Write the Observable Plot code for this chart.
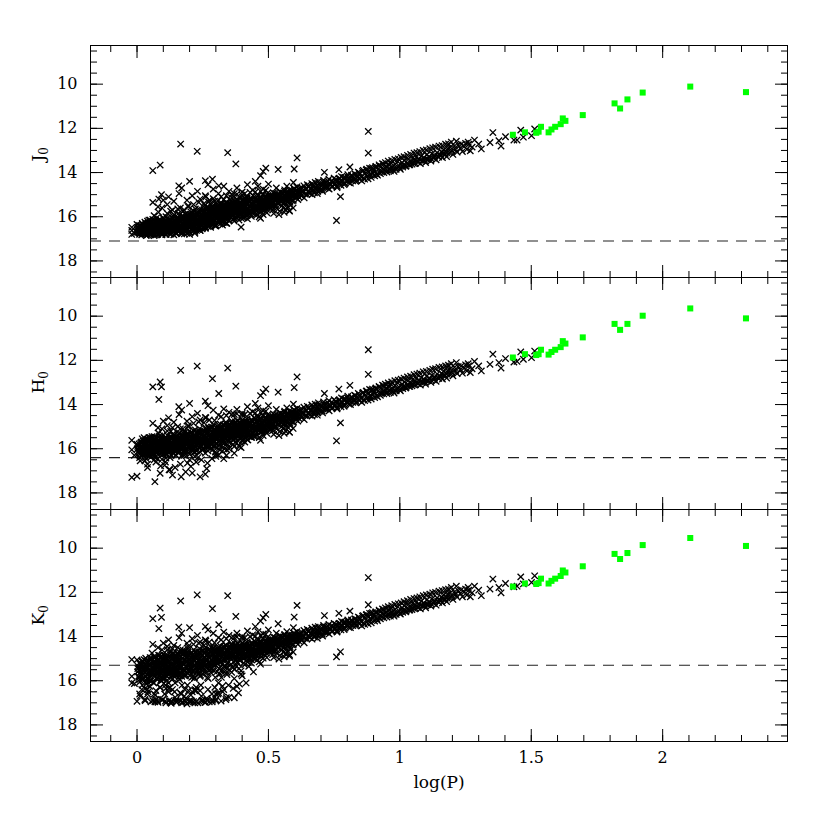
<!DOCTYPE html>
<html><head><meta charset="utf-8">
<script src="https://cdn.jsdelivr.net/npm/d3@7"></script>
<script src="https://cdn.jsdelivr.net/npm/@observablehq/plot@0.6"></script>
<style>html,body{margin:0;padding:0;background:#fff;overflow:hidden}</style>
</head><body><div id="chart"></div>
<script>
// ---- data ----
const logP = [
-0.02,-0.01,-0.02,0.00,0.00,0.01,0.01,0.02,0.02,0.02,0.03,0.03,0.03,0.03,0.04,0.04,0.04,0.04,0.04,0.05,-0.02,0.01,0.02,0.03,0.05,0.05,0.05,0.04,0.02,0.05,
0.055,0.058,0.06,0.06,0.062,0.065,0.065,0.068,0.07,0.07, 0.072,0.075,0.075,0.078,0.08,0.08,0.082,0.085,0.085,0.088, 0.09,0.09,0.092,0.095,0.095,0.098,0.10,0.10,0.102,0.105, 0.105,0.108,0.11,0.11,0.112,0.115,0.115,0.118,0.12,0.12, 0.122,0.125,0.125,0.128,0.13,0.13,0.132,0.135,0.135,0.138, 0.14,0.14,0.142,0.145,0.145,0.148,0.15,0.15,0.07,0.09, 0.11,0.13,0.06,0.08,0.10,0.12,0.14,0.075,0.105,0.135,
0.152,0.155,0.155,0.158,0.16,0.16,0.162,0.165,0.165,0.168, 0.17,0.17,0.172,0.175,0.175,0.178,0.18,0.18,0.182,0.185, 0.185,0.188,0.19,0.19,0.192,0.195,0.195,0.198,0.20,0.20, 0.202,0.205,0.205,0.208,0.21,0.21,0.212,0.215,0.215,0.218, 0.22,0.22,0.222,0.225,0.225,0.228,0.23,0.23,0.232,0.235, 0.235,0.238,0.24,0.24,0.242,0.245,0.245,0.248,0.25,0.25, 0.16,0.17,0.19,0.20,0.21,0.23,0.24,0.18,0.20,0.22,
0.252,0.255,0.255,0.258,0.26,0.26,0.262,0.265,0.265,0.268, 0.27,0.27,0.272,0.275,0.275,0.278,0.28,0.28,0.282,0.285, 0.285,0.288,0.29,0.29,0.292,0.295,0.295,0.298,0.30,0.30, 0.302,0.305,0.305,0.308,0.31,0.31,0.312,0.315,0.315,0.318, 0.32,0.32,0.322,0.325,0.325,0.328,0.33,0.33,0.332,0.335, 0.338,0.34,0.34,0.342,0.345,0.348,0.35,0.27,0.29,0.31, 0.33,0.35,0.26,0.30,0.34,
0.352,0.355,0.355,0.358,0.36,0.36,0.362,0.365,0.365,0.368, 0.37,0.37,0.372,0.375,0.375,0.378,0.38,0.38,0.382,0.385, 0.385,0.388,0.39,0.39,0.392,0.395,0.396,0.398,0.40,0.40, 0.402,0.405,0.408,0.41,0.41,0.412,0.415,0.418,0.42,0.42, 0.422,0.425,0.428,0.43,0.432,0.435,0.438,0.44,0.442,0.445, 0.38,0.40,0.42,0.44,0.37,
0.452,0.455,0.458,0.46,0.462,0.465,0.468,0.47,0.47,0.472, 0.475,0.478,0.48,0.482,0.485,0.488,0.49,0.492,0.495,0.498, 0.50,0.502,0.505,0.508,0.51,0.512,0.515,0.518,0.52,0.525, 0.528,0.53,0.535,0.538,0.54,0.545,0.548,0.46,0.48,0.50,
0.552,0.555,0.558,0.56,0.562,0.565,0.568,0.57,0.572,0.575, 0.578,0.58,0.582,0.585,0.588,0.59,0.592,0.595,0.598,0.60, 0.602,0.605,0.608,0.61,0.615,0.618,0.62,0.625,0.628,0.632, 0.635,0.64,0.645,0.648,0.595,
0.652,0.655,0.658,0.66,0.665,0.668,0.67,0.675,0.678,0.68, 0.685,0.688,0.69,0.695,0.70,0.705,0.71,0.715,0.72,0.725, 0.73,0.735,0.74,0.745,0.75,0.759,0.774,
0.752,0.758,0.762,0.768,0.772,0.778,0.782,0.788,0.792,0.798, 0.802,0.808,0.812,0.818,0.822,0.828,0.832,0.838,0.842,0.848,
0.852,0.858,0.862,0.868,0.872,0.878,0.88,0.88,0.882,0.888, 0.892,0.898,0.902,0.908,0.912,0.918,0.922,0.928,0.932,0.938, 0.942,0.948,
0.952,0.958,0.962,0.968,0.972,0.978,0.982,0.988,0.992,0.998, 1.002,1.008,1.012,1.018,1.022,1.028,1.032,1.038,1.042,1.048,
1.052,1.058,1.062,1.068,1.072,1.078,1.082,1.088,1.092,1.098, 1.102,1.108,1.112,1.118,1.122,1.128,1.132,1.138,1.142,1.148,
1.152,1.158,1.162,1.168,1.172,1.178,1.182,1.188,1.192,1.198, 1.202,1.208,1.212,1.218,1.222,1.23,1.238,1.245,1.25,
1.255,1.262,1.268,1.275,1.284,1.30,1.31,1.343,1.354,1.377, 1.385,1.402,1.434,1.446,1.46,1.47,1.501,1.513,
0.060,0.088,0.093,0.083,0.166,0.229,0.345,0.287,0.311,0.376, 0.609,0.598,0.537,0.47,0.48,0.49,0.159,0.26,0.45, 0.713,0.768,0.81,
0.003,0.006,0.008,0.011,0.013,0.016,0.018,0.021,0.023,0.026, 0.028,0.031,0.033,0.036,0.038,0.041,0.043,0.046,0.048,0.051, 0.053,0.056,0.058,0.061,0.063,0.066,0.068,0.071,0.073,0.076, 0.078,0.081,0.083,0.086,0.088,0.091,0.093,0.096,0.098,0.099, 0.012,0.027,0.042,0.057,0.072,0.087,0.035,0.065,0.095,0.045,
0.101,0.103,0.106,0.108,0.111,0.113,0.116,0.118,0.121,0.123, 0.126,0.128,0.131,0.133,0.136,0.138,0.141,0.143,0.146,0.148, 0.151,0.153,0.156,0.158,0.161,0.163,0.166,0.168,0.171,0.173, 0.176,0.178,0.181,0.183,0.186,0.188,0.191,0.193,0.196,0.198, 0.105,0.125,0.145,0.165,0.185,0.115,0.135,0.155,0.175,0.195, 0.11,0.14,0.17,0.19,0.12,
0.201,0.203,0.206,0.208,0.211,0.213,0.216,0.218,0.221,0.223, 0.226,0.228,0.231,0.233,0.236,0.238,0.241,0.243,0.246,0.248, 0.251,0.253,0.256,0.258,0.261,0.263,0.266,0.268,0.271,0.273, 0.276,0.278,0.281,0.283,0.286,0.288,0.291,0.293,0.296,0.298, 0.205,0.225,0.245,0.265,0.285,0.215,0.235,0.255,0.275,0.295, 0.22,0.24,0.26,0.28,0.30,
0.301,0.303,0.306,0.308,0.311,0.313,0.316,0.318,0.321,0.323, 0.326,0.328,0.331,0.333,0.336,0.338,0.341,0.343,0.346,0.348, 0.351,0.353,0.356,0.358,0.361,0.363,0.366,0.368,0.371,0.373, 0.376,0.378,0.381,0.383,0.386,0.388,0.391,0.393,0.396,0.398, 0.31,0.33,0.35,0.37,0.39,0.32,0.34,0.36,0.38,0.40,
0.401,0.404,0.407,0.41,0.413,0.416,0.419,0.422,0.425,0.428, 0.431,0.434,0.437,0.44,0.443,0.446,0.449,0.452,0.455,0.458, 0.461,0.464,0.467,0.47,0.473,0.476,0.479,0.482,0.485,0.488, 0.491,0.494,0.497,0.499,0.405,0.42,0.435,0.45,0.465,0.48, 0.41,0.43,0.45,0.47,0.49,
0.501,0.504,0.507,0.51,0.513,0.516,0.519,0.522,0.525,0.528, 0.531,0.534,0.537,0.54,0.543,0.546,0.549,0.552,0.555,0.558, 0.561,0.564,0.567,0.57,0.573,0.576,0.579,0.582,0.585,0.588, 0.591,0.594,0.597,0.599,0.52,0.54,0.56,0.58,0.53,0.57,
0.002,0.004,0.007,0.009,0.014,0.017,0.019,0.022,0.024,0.029, 0.032,0.034,0.037,0.039,0.044,0.047,0.049,0.052,0.054,0.059, 0.062,0.064,0.067,0.069,0.074,0.077,0.079,0.082,0.084,0.089, 0.092,0.094,0.097,0.102,0.104,0.107,0.109,0.112,0.114,0.117, 0.119,0.122,0.124,0.127,0.129,0.132,0.134,0.137,0.139,0.142, 0.144,0.147,0.149,0.152,0.154,0.157,0.159,0.162,0.164,0.167, 0.169,0.172,0.174,0.177,0.179,0.182,0.184,0.187,0.189,0.192, 0.194,0.197,0.199,0.025,0.055,0.085,0.115,0.145,0.175,0.100,
0.202,0.204,0.207,0.209,0.212,0.214,0.217,0.219,0.222,0.224, 0.227,0.229,0.232,0.234,0.237,0.239,0.242,0.244,0.247,0.249, 0.252,0.254,0.257,0.259,0.262,0.264,0.267,0.269,0.272,0.274, 0.277,0.279,0.282,0.284,0.287,0.289,0.292,0.294,0.297,0.299, 0.302,0.304,0.307,0.309,0.312,0.314,0.317,0.319,0.322,0.324, 0.327,0.329,0.332,0.334,0.337,0.339,0.342,0.344,0.347,0.349, 0.352,0.354,0.357,0.359,0.362,0.364,0.367,0.369,0.372,0.374, 0.377,0.379,0.382,0.384,0.387,0.389,0.392,0.394,0.397,0.399,
0.403,0.406,0.409,0.412,0.415,0.418,0.421,0.424,0.427,0.43, 0.433,0.436,0.439,0.442,0.445,0.448,0.451,0.454,0.457,0.46, 0.463,0.466,0.469,0.472,0.475,0.478,0.481,0.484,0.487,0.49, 0.493,0.496,0.503,0.508,0.512,0.518,0.523,0.527,0.533,0.538, 0.542,0.547,0.553,0.557,0.563,0.568,0.574,0.581,0.589,0.596,
0.603,0.607,0.612,0.616,0.621,0.626,0.631,0.636,0.641,0.646, 0.651,0.656,0.661,0.666,0.671,0.676,0.681,0.686,0.691,0.696, 0.701,0.706,0.711,0.716,0.721,0.726,0.731,0.736,0.741,0.746, 0.751,0.756,0.761,0.766,0.771,0.776,0.781,0.786,0.791,0.796, 0.801,0.806,0.811,0.816,0.821,0.826,0.831,0.836,0.841,0.846,
0.855,0.861,0.866,0.874,0.879,0.885,0.891,0.896,0.904,0.909, 0.915,0.921,0.926,0.934,0.939,0.945,0.951,0.956,0.964,0.969, 0.975,0.981,0.986,0.994,0.999,1.005,1.011,1.016,1.024,1.029, 1.035,1.041,1.046,1.054,1.059,1.065,1.071,1.076,1.084,1.089, 1.095,1.101,1.106,1.114,1.119,1.125,1.131,1.136,1.144,1.149, 1.155,1.161,1.166,1.174,1.179,1.185,1.196,1.215,1.234,1.26
];
const J0 = [
16.62,16.75,16.48,16.70,16.35,16.58,16.80,16.45,16.66,16.30,16.72,16.52,16.40,16.78,16.60,16.20,16.48,16.82,16.55,16.36,16.80,16.68,16.58,16.25,16.70,16.50,16.15,16.40,16.72,16.62,
16.55,16.30,16.68,16.12,16.45,15.95,16.78,16.38,16.60,16.25, 16.50,16.70,16.05,16.42,16.62,16.20,15.80,16.55,16.35,16.72, 16.48,16.15,16.65,16.30,15.60,16.52,16.40,16.75,16.10,16.58, 16.28,16.45,16.68,16.00,16.38,15.45,16.55,16.22,16.62,16.35, 16.70,16.15,16.48,15.75,16.58,16.28,16.42,16.05,16.65,16.32, 16.50,15.92,16.20,16.60,16.38,16.75,16.10,16.45,16.82,16.58, 16.80,16.78,15.35,15.55,15.25,15.10,15.30,16.48,16.62,16.55,
16.30,16.05,16.55,15.85,16.42,16.18,16.62,15.60,16.35,16.70, 16.12,16.48,15.95,16.28,16.58,16.02,16.40,15.70,16.65,16.22, 16.50,15.88,16.35,16.08,16.60,16.25,15.50,16.45,16.00,16.70, 16.18,16.38,15.78,16.55,16.10,16.30,16.48,15.92,16.22,16.62, 16.05,16.40,15.65,16.28,16.52,16.12,16.35,15.85,16.58,16.20, 16.45,15.98,16.30,16.62,16.08,16.40,15.75,16.25,16.50,16.15, 14.95,14.70,15.25,14.40,15.05,14.85,15.20,16.78,16.80,16.75,
16.08,15.73,16.28,15.48,15.98,15.05,15.10,16.20,15.83,15.60, 16.38,15.93,15.33,16.13,15.68,16.03,15.40,16.26,15.78,16.08, 15.53,16.33,15.88,15.18,16.16,15.63,15.96,16.40,15.76,16.06, 15.46,16.23,15.83,15.28,16.00,15.66,16.13,15.50,16.33,15.86, 15.70,16.18,15.38,15.93,16.38,15.58,16.03,15.23,16.26,15.80, 15.48,16.08,15.66,16.30,15.90,15.40,16.16,14.55,14.75,14.95, 14.62,14.85,16.50,16.42,16.30,
15.72,15.25,16.00,15.50,15.85,15.15,15.65,16.10,15.38,15.90, 15.58,16.20,15.30,15.78,15.48,16.05,15.20,15.70,15.95,15.42, 15.62,16.15,15.10,15.55,15.85,15.35,16.47,15.68,15.25,15.98, 15.48,15.75,15.18,16.02,15.58,15.35,15.85,15.08,15.65,15.42, 15.92,15.25,15.72,15.50,15.15,15.80,15.38,15.60,15.05,15.75, 14.70,14.88,14.55,14.80,14.95,
15.55,15.20,15.72,15.05,15.40,15.62,15.15,16.07,15.48,15.30, 15.68,14.98,15.42,15.58,15.22,15.50,15.10,15.65,15.35,14.92, 15.45,15.18,15.60,15.28,15.02,15.40,15.55,15.12,15.35,14.95, 15.48,15.22,15.05,15.38,15.15,14.88,15.30,14.62,14.75,14.52,
15.20,14.92,15.38,15.05,14.78,15.68,15.15,14.95,15.30,14.85, 15.12,15.72,14.98,15.22,14.80,15.08,14.90,15.25,14.72,15.00, 14.85,15.15,14.65,14.95,15.10,14.78,14.92,15.05,14.70,14.88, 14.60,14.98,14.75,14.55,14.45,
14.88,14.62,14.95,14.72,14.50,14.82,14.65,14.92,14.45,14.75, 14.58,14.85,14.40,14.68,14.52,14.78,14.35,14.62,14.45,14.70, 14.30,14.55,14.40,14.62,14.25,16.17,15.09,
14.50,14.35,14.62,14.28,14.45,14.18,14.40,14.55,14.22,14.38, 14.10,14.32,14.48,14.15,14.28,14.05,14.40,14.20,13.98,14.30,
14.18,13.95,14.25,14.05,13.88,14.15,12.14,13.12,13.98,14.10, 13.82,14.02,13.90,13.75,14.08,13.85,13.70,13.95,13.80,13.62, 13.88,13.72,
13.90,13.65,13.82,13.58,13.75,13.95,13.62,13.78,13.50,13.70, 13.85,13.55,13.68,13.45,13.72,13.58,13.40,13.65,13.50,13.35,
13.58,13.42,13.30,13.52,13.38,13.60,13.25,13.45,13.32,13.55, 13.20,13.40,13.28,13.48,13.15,13.35,13.22,13.42,13.10,13.30,
13.20,13.05,13.32,12.98,13.15,13.28,12.92,13.10,12.85,13.02, 13.18,12.80,12.95,13.08,12.75,12.90,13.05,12.82,12.68,
12.95,12.72,13.02,12.85,12.53,12.71,12.93,12.64,12.19,12.56, 12.80,12.38,12.53,12.53,12.08,12.40,12.33,12.03,
13.91,13.66,15.00,15.20,12.71,13.04,13.10,14.30,14.60,13.61, 13.34,13.84,13.86,14.14,13.95,13.80,14.60,14.37,14.40, 13.99,13.87,13.75,
16.52,16.68,16.40,16.75,16.58,16.45,16.82,16.62,16.38,16.70, 16.50,16.78,16.32,16.60,16.45,16.72,16.28,16.55,16.68,16.40, 16.82,16.22,16.62,16.48,16.75,16.35,16.58,16.18,16.70,16.42, 16.80,16.28,16.55,16.12,16.65,16.38,16.78,16.25,16.52,16.05, 16.48,16.65,16.30,16.55,16.45,16.72,16.85,16.85,16.82,16.15,
16.42,16.65,16.20,16.55,16.35,16.72,16.05,16.48,16.62,16.28, 16.80,16.15,16.52,16.38,16.70,15.98,16.45,16.60,16.25,16.75, 16.10,16.50,16.35,16.68,15.92,16.42,16.58,16.18,16.72,16.30, 16.05,16.48,16.62,15.88,16.40,16.22,16.55,16.00,16.68,16.32, 16.30,16.55,16.40,16.20,16.45,15.85,15.70,15.65,15.75,15.55, 16.80,16.82,16.78,16.75,16.10,
16.25,16.48,15.90,16.35,16.10,16.58,15.75,16.28,16.45,16.02, 16.62,15.85,16.30,16.15,16.50,15.68,16.22,16.40,15.95,16.55, 15.80,16.18,16.05,16.42,15.62,16.12,16.30,15.88,16.45,15.98, 15.70,16.20,16.35,15.60,16.08,15.85,16.25,15.72,16.40,15.95, 16.20,16.05,15.90,16.10,15.80,15.45,15.35,15.40,15.25,15.30, 16.70,16.62,16.52,16.48,16.38,
15.85,16.10,15.55,15.95,15.70,16.20,15.40,15.88,16.05,15.62, 16.25,15.48,15.92,15.75,16.12,15.35,15.82,16.00,15.58,16.18, 15.45,15.78,15.65,16.02,15.28,15.72,15.90,15.50,16.08,15.60, 15.35,15.85,15.98,15.25,15.70,15.48,15.92,15.38,16.05,15.62, 15.70,15.85,15.60,15.75,15.52,15.10,15.05,15.00,14.98,15.02,
15.55,15.85,15.25,15.70,15.40,15.95,15.15,15.62,15.78,15.35, 15.88,15.20,15.65,15.48,15.80,15.10,15.55,15.72,15.30,15.90, 15.05,15.45,15.62,15.22,15.78,15.38,15.00,15.55,15.70,15.15, 15.48,15.82,15.28,15.05,16.05,16.10,15.98,15.92,16.00,15.90, 14.95,14.90,14.88,14.85,14.80,
15.30,15.58,15.05,15.45,15.18,15.70,14.92,15.38,15.55,15.10, 15.62,14.98,15.42,15.25,15.75,14.88,15.32,15.50,15.08,15.62, 14.85,15.25,15.42,15.00,15.55,15.15,14.80,15.35,15.48,14.95, 15.28,15.60,15.05,14.75,15.85,15.90,15.80,15.75,14.70,14.62,
16.60,16.48,16.72,16.55,16.40,16.65,16.50,16.78,16.58,16.45, 16.68,16.35,16.55,16.70,16.42,16.62,16.30,16.52,16.75,16.48, 16.38,16.60,16.25,16.50,16.70,16.42,16.58,16.32,16.65,16.45, 16.55,16.28,16.68,16.40,16.52,16.20,16.62,16.35,16.48,16.58, 16.25,16.45,16.60,16.15,16.38,16.55,16.30,16.48,16.10,16.62, 16.35,16.52,16.20,16.42,16.05,16.58,16.28,16.45,16.15,16.38, 16.55,16.10,16.32,16.48,16.02,16.25,16.60,16.18,16.40,15.95, 16.30,16.45,16.12,16.62,16.50,16.35,16.40,16.22,16.08,16.50,
16.20,15.95,16.40,16.10,15.85,16.30,16.02,16.48,15.90,16.18, 16.35,15.82,16.10,16.25,15.75,16.05,16.38,15.92,16.15,15.70, 16.00,16.28,15.78,16.12,15.65,15.95,16.22,15.85,16.05,15.60, 15.90,16.15,15.70,15.98,15.55,16.08,15.80,15.62,16.02,15.75, 15.85,15.60,16.05,15.72,15.48,15.92,15.65,16.00,15.55,15.80, 15.70,15.95,15.45,15.82,15.58,15.40,15.88,15.62,15.75,15.50, 15.78,15.42,15.65,15.90,15.35,15.58,15.72,15.48,15.85,15.30, 15.62,15.45,15.75,15.28,15.55,15.68,15.38,15.82,15.50,15.25,
15.60,15.35,15.75,15.48,15.28,15.65,15.40,15.82,15.52,15.30, 15.70,15.45,15.22,15.58,15.38,15.68,15.15,15.50,15.62,15.32, 15.25,15.55,15.42,15.12,15.60,15.35,15.48,15.20,15.52,15.08, 15.40,15.28,15.45,15.15,15.35,15.05,15.50,15.22,15.10,15.38, 15.00,15.30,15.18,14.95,15.25,15.08,14.92,15.20,15.02,14.88,
15.10,14.80,15.22,14.92,14.70,15.05,14.85,15.15,14.75,14.98, 14.62,14.90,14.72,15.00,14.55,14.82,14.65,14.95,14.50,14.78, 14.60,14.85,14.45,14.70,14.58,14.38,14.75,14.52,14.65,14.42, 14.55,14.32,14.68,14.45,14.28,14.58,14.40,14.22,14.50,14.35, 14.18,14.45,14.30,14.12,14.38,14.25,14.08,14.35,14.20,14.02,
14.38,13.90,14.30,13.85,14.28,13.80,14.22,13.78,14.15,13.72, 14.12,13.65,14.05,13.60,14.00,13.55,13.98,13.48,13.92,13.45, 13.88,13.40,13.85,13.38,13.80,13.32,13.75,13.28,13.70,13.22, 13.65,13.18,13.62,13.12,13.58,13.10,13.52,13.05,13.48,13.00, 13.45,12.98,13.40,12.92,13.38,12.88,13.30,12.85,13.25,12.80, 13.22,12.78,13.15,12.72,13.10,12.70,12.62,12.58,12.72,12.62
];
const H0 = [
16.05,16.30,15.62,17.24,15.80,15.95,16.40,15.72,16.12,15.55,16.20,15.98,15.85,16.55,16.02,15.60,15.90,16.30,16.70,15.78,17.30,16.15,16.00,15.65,16.22,15.95,15.50,16.85,16.25,16.10,
16.02,15.85,16.20,15.62,15.96,15.45,16.32,17.49,16.08,15.70, 16.40,16.15,15.52,15.90,16.05,15.68,15.30,16.00,15.88,17.11, 15.92,15.60,16.18,15.75,15.10,16.05,15.82,16.25,15.55,16.12, 15.70,16.60,16.20,15.48,15.85,14.95,16.05,15.65,16.15,15.80, 16.95,15.62,15.95,15.22,16.08,15.75,15.90,15.50,17.19,15.78, 16.00,15.40,15.68,16.12,15.85,16.28,15.58,15.92,16.35,16.78, 16.42,16.30,14.85,15.05,14.75,14.60,14.80,16.10,16.20,16.00,
15.80,15.55,16.05,15.32,15.95,15.65,16.12,15.10,15.85,17.27, 15.60,16.00,15.45,15.78,16.10,15.52,15.88,15.20,16.20,15.70, 16.02,15.38,15.85,15.58,16.65,15.72,15.00,15.95,15.50,16.25, 15.65,15.88,15.25,16.08,15.58,17.10,15.98,15.42,15.70,16.15, 15.55,15.90,15.15,15.78,16.05,15.62,15.85,15.35,16.40,15.70, 15.95,15.48,17.27,16.15,15.58,15.90,15.25,15.72,16.00,15.62, 14.45,14.25,14.75,13.95,14.55,14.40,14.70,16.30,16.50,16.35,
15.78,15.45,16.00,15.20,15.68,14.58,14.60,15.92,15.52,16.65, 16.10,15.62,15.05,15.85,15.40,15.72,15.12,15.98,15.50,15.80, 15.25,16.05,15.58,14.90,15.88,15.35,15.68,16.15,15.45,15.78, 15.18,15.95,15.52,15.00,15.70,15.38,15.85,15.22,16.05,15.55, 15.40,15.90,15.10,15.62,16.10,15.30,15.75,14.95,16.00,15.50, 15.20,15.78,15.38,16.05,15.60,15.12,15.88,14.05,14.25,14.48, 14.20,14.35,17.15,16.25,16.30,
15.42,14.95,15.70,15.20,15.55,14.85,15.35,15.80,15.08,15.60, 15.28,15.90,15.00,15.48,15.15,15.75,14.90,15.38,15.62,15.10, 15.32,15.85,14.80,15.25,15.55,15.05,15.95,15.38,14.95,15.65, 15.18,15.45,14.88,15.70,15.28,15.05,15.52,14.78,15.35,15.10, 15.60,14.95,15.42,15.20,14.85,15.48,15.08,15.30,14.75,15.45, 14.22,14.40,14.10,14.32,14.45,
15.08,14.72,15.25,14.58,14.92,15.15,14.68,15.62,15.00,14.82, 15.20,14.50,14.95,15.10,14.75,15.02,14.62,15.18,14.88,14.45, 14.98,14.70,15.12,14.80,14.55,14.92,15.08,14.65,14.88,14.48, 15.00,14.75,14.58,14.90,14.68,14.40,14.82,14.15,14.28,14.05,
14.72,14.45,14.90,14.58,14.30,15.20,14.68,14.48,14.82,14.38, 14.65,15.25,14.50,14.75,14.32,14.60,14.42,14.78,14.25,14.52, 14.38,14.68,14.18,14.48,14.62,14.30,14.45,14.58,14.22,14.40, 14.12,14.50,14.28,14.08,13.98,
14.40,14.15,14.48,14.25,14.02,14.35,14.18,14.45,13.98,14.28, 14.10,14.38,13.92,14.20,14.05,14.30,13.88,14.15,13.98,14.22, 13.82,14.08,13.92,14.15,13.78,15.64,14.83,
14.02,13.88,14.15,13.80,13.98,13.70,13.92,14.08,13.75,13.90, 13.62,13.85,14.00,13.68,13.80,13.58,13.92,13.72,13.50,13.82,
13.70,13.48,13.78,13.58,13.40,13.68,11.52,12.63,13.50,13.62, 13.35,13.55,13.42,13.28,13.60,13.38,13.22,13.48,13.32,13.15, 13.40,13.25,
13.42,13.18,13.35,13.10,13.28,13.48,13.15,13.30,13.02,13.22, 13.38,13.08,13.20,12.98,13.25,13.10,12.92,13.18,13.02,12.88,
13.10,12.95,12.82,13.05,12.90,13.12,12.78,12.98,12.85,13.08, 12.72,12.92,12.80,13.00,12.68,12.88,12.75,12.95,12.62,12.82,
12.72,12.58,12.85,12.50,12.68,12.80,12.45,12.62,12.38,12.55, 12.70,12.32,12.48,12.60,12.28,12.42,12.58,12.35,12.20,
12.48,12.25,12.55,12.38,12.05,12.25,12.48,12.18,11.72,12.10, 12.35,11.92,12.08,12.05,11.62,11.95,11.88,11.58,
13.20,12.98,13.20,13.77,12.45,12.26,12.35,12.83,13.50,13.17, 12.75,13.23,13.44,13.60,13.45,13.30,14.10,13.85,13.95, 13.50,13.30,13.13,
15.90,16.10,15.78,16.25,15.98,15.70,16.35,16.02,15.65,16.18, 15.85,16.28,15.60,16.05,15.80,16.20,15.58,15.95,16.12,15.75, 16.38,15.52,16.00,15.85,16.22,15.68,16.05,15.48,16.15,15.80, 16.45,15.62,15.98,15.42,16.10,15.72,16.30,15.58,15.92,15.38, 16.55,15.50,16.30,15.45,16.60,15.55,16.45,16.50,16.48,15.50,
15.82,16.10,15.55,15.98,15.70,16.25,15.40,15.90,16.08,15.62, 16.40,15.48,15.95,15.75,16.20,15.32,15.85,16.02,15.60,16.30, 15.45,15.92,15.72,16.15,15.28,15.80,16.00,15.55,16.28,15.65, 15.42,15.88,16.08,15.25,15.75,15.58,16.00,15.35,16.20,15.68, 16.75,16.95,16.85,16.70,17.05,15.20,15.05,15.00,15.10,14.95, 15.60,15.82,16.35,15.50,16.10,
15.62,15.90,15.30,15.78,15.50,16.02,15.18,15.70,15.88,15.42, 16.10,15.25,15.72,15.55,15.95,15.10,15.62,15.85,15.35,16.05, 15.20,15.60,15.45,15.88,15.05,15.52,15.75,15.28,15.95,15.40, 15.12,15.62,15.80,15.02,15.50,15.28,15.70,15.15,15.88,15.38, 16.80,16.60,16.50,16.90,16.45,14.85,14.78,14.82,14.70,14.72, 16.15,15.30,16.20,15.45,16.35,
15.30,15.52,15.00,15.40,15.15,15.65,14.88,15.32,15.50,15.08, 15.72,14.92,15.38,15.20,15.58,14.80,15.28,15.45,15.02,15.65, 14.90,15.22,15.10,15.48,14.75,15.18,15.35,14.95,15.55,15.05, 14.82,15.30,15.42,14.72,15.15,14.92,15.38,14.85,15.50,15.08, 16.30,16.45,16.00,16.20,15.90,14.55,14.50,14.45,14.42,14.48,
15.05,15.32,14.75,15.18,14.88,15.42,14.65,15.10,15.25,14.82, 15.35,14.70,15.12,14.95,15.28,14.60,15.02,15.20,14.78,15.38, 14.55,14.92,15.10,14.70,15.25,14.85,14.50,15.02,15.18,14.65, 14.95,15.30,14.78,14.55,15.55,15.60,15.48,15.45,15.50,15.40, 14.45,14.40,14.38,14.35,14.30,
14.80,15.05,14.55,14.95,14.68,15.18,14.42,14.88,15.02,14.60, 15.10,14.48,14.92,14.75,15.22,14.38,14.82,14.98,14.58,15.10, 14.35,14.75,14.92,14.50,15.02,14.65,14.30,14.85,14.95,14.45, 14.78,15.08,14.55,14.25,15.35,15.40,15.30,15.25,14.22,14.15,
16.00,15.85,16.20,15.95,15.75,16.10,15.90,16.25,15.98,15.80, 16.12,15.70,15.92,16.15,15.82,16.05,15.62,15.95,16.22,15.88, 15.75,16.00,15.58,15.90,16.18,15.80,16.02,15.65,16.10,15.85, 15.98,15.60,16.12,15.78,15.95,15.52,16.05,15.70,15.88,16.00, 15.58,15.85,16.02,15.45,15.75,15.98,15.62,15.90,15.40,16.08, 15.70,15.95,15.52,15.80,15.38,16.02,15.65,15.88,15.48,15.78, 16.00,15.42,15.72,15.92,15.35,15.62,16.05,15.55,15.82,15.30, 15.68,15.88,15.48,16.05,15.92,15.75,15.82,15.60,15.45,15.95,
15.65,15.45,15.95,15.55,15.30,15.80,15.50,15.98,15.38,15.70, 15.85,15.25,15.60,15.72,15.22,15.58,15.88,15.40,15.62,15.18, 15.48,15.75,15.25,15.62,15.12,15.45,15.70,15.32,15.55,15.08, 15.38,15.65,15.20,15.45,15.02,15.58,15.28,15.10,15.50,15.22, 15.35,15.08,15.55,15.20,14.95,15.42,15.12,15.50,15.02,15.30, 15.20,15.45,14.92,15.32,15.05,14.88,15.38,15.10,15.25,14.98, 15.28,14.90,15.12,15.40,14.82,15.05,15.22,14.95,15.35,14.78, 15.10,14.92,15.25,14.75,15.02,15.18,14.85,15.32,14.98,14.72,
15.10,14.85,15.25,14.98,14.78,15.15,14.90,15.32,15.02,14.80, 15.20,14.95,14.72,15.08,14.88,15.18,14.65,15.00,15.12,14.82, 14.75,15.05,14.92,14.62,15.10,14.85,14.98,14.70,15.02,14.58, 14.90,14.78,14.95,14.65,14.85,14.55,15.00,14.72,14.60,14.88, 14.50,14.80,14.68,14.45,14.75,14.58,14.42,14.70,14.52,14.38,
14.62,14.32,14.75,14.45,14.22,14.58,14.38,14.68,14.28,14.50, 14.15,14.42,14.25,14.52,14.08,14.35,14.18,14.48,14.02,14.30, 14.12,14.38,13.98,14.22,14.10,13.92,14.28,14.05,14.18,13.95, 14.08,13.85,14.20,13.98,13.80,14.10,13.92,13.75,14.02,13.88, 13.70,13.98,13.82,13.65,13.90,13.78,13.60,13.88,13.72,13.55,
13.90,13.45,13.82,13.38,13.80,13.32,13.75,13.30,13.68,13.25, 13.65,13.18,13.58,13.12,13.52,13.08,13.50,13.02,13.45,12.98, 13.40,12.92,13.38,12.90,13.32,12.85,13.28,12.80,13.22,12.75, 13.18,12.72,13.15,12.65,13.10,12.62,13.05,12.58,13.00,12.52, 12.98,12.50,12.92,12.45,12.90,12.40,12.82,12.38,12.78,12.32, 12.75,12.30,12.68,12.25,12.62,12.22,12.15,12.10,12.25,12.15
];
const K0 = [
15.80,16.13,15.04,16.93,15.06,15.50,16.60,15.35,15.90,15.15,16.36,15.62,15.28,16.85,15.70,15.20,15.45,16.05,16.40,15.55,16.10,15.95,15.10,15.40,16.00,15.75,14.95,16.60,16.20,15.85,
15.60,15.40,16.90,15.20,15.72,14.90,16.10,16.95,15.50,15.35, 16.45,15.90,15.10,15.64,16.98,15.25,14.85,15.78,15.50,16.30, 15.40,15.12,16.00,15.55,14.60,16.85,15.30,15.95,15.05,15.70, 15.45,16.20,17.00,14.95,15.60,14.45,15.80,15.18,16.50,15.35, 16.90,15.22,15.65,14.70,15.85,15.48,16.95,15.00,16.40,15.58, 15.30,14.88,15.42,16.10,15.55,16.88,15.15,15.70,16.65,15.98, 16.35,17.02,14.35,14.50,14.30,14.15,14.40,15.62,15.85,15.75,
15.50,15.10,16.92,14.85,15.68,15.30,15.95,14.60,15.45,16.60, 15.18,15.80,15.00,16.98,15.62,15.25,15.52,14.75,16.40,15.35, 15.72,14.95,17.05,15.15,16.20,15.50,14.55,15.60,15.05,16.90, 15.40,15.25,14.80,15.85,15.20,16.50,15.58,14.92,16.95,15.90, 15.10,15.45,14.70,15.38,16.30,15.22,15.55,14.88,17.00,15.30, 15.65,15.02,16.45,15.80,15.18,15.50,14.78,16.90,15.70,15.28, 14.05,13.85,14.30,13.60,14.10,13.95,14.25,16.70,16.95,16.45,
15.40,14.98,16.92,14.75,15.30,14.15,14.20,15.62,15.10,15.85, 16.40,15.20,14.62,15.50,16.95,15.35,14.70,15.62,15.05,15.45, 14.80,16.88,15.15,14.50,15.55,14.90,15.25,15.85,15.00,16.60, 14.72,15.58,15.12,14.55,16.55,14.95,15.45,14.80,15.70,15.15, 16.92,15.55,14.65,15.25,16.25,14.85,15.35,14.50,15.60,15.05, 16.85,15.40,14.92,15.72,15.20,14.68,15.50,13.70,13.85,14.05, 13.80,13.95,16.98,16.90,16.77,
14.95,14.50,15.30,14.75,15.62,14.42,14.90,15.40,14.62,15.15, 14.82,16.77,14.55,15.05,14.70,15.35,14.48,16.25,15.20,14.65, 14.88,15.45,14.40,14.78,15.10,14.60,15.55,14.92,14.50,15.78, 14.72,15.00,14.45,15.28,14.82,14.60,16.10,14.35,14.88,14.65, 15.15,14.52,14.95,14.75,14.40,15.05,14.62,14.85,14.32,15.00, 13.85,14.00,13.75,13.92,14.05,
14.65,14.30,14.85,14.15,14.50,14.72,14.25,15.25,14.58,14.40, 14.78,14.08,14.52,14.68,14.32,14.60,14.20,14.75,14.45,14.02, 14.55,14.28,14.70,14.38,14.12,14.50,14.65,14.22,14.45,14.05, 14.58,14.32,14.15,14.48,14.25,13.98,14.40,13.78,13.88,13.70,
14.30,14.02,14.48,14.15,13.90,14.78,14.25,14.05,14.40,13.95, 14.22,14.82,14.08,14.32,13.92,14.18,14.00,14.35,13.85,14.10, 13.95,14.25,13.78,14.05,14.20,13.90,14.02,14.15,13.82,13.98, 13.72,14.08,13.88,13.68,13.60,
13.98,13.75,14.05,13.85,13.62,13.92,13.78,14.02,13.58,13.88, 13.70,13.95,13.55,13.80,13.65,13.90,13.50,13.75,13.58,13.82, 13.45,13.68,13.52,13.75,13.40,14.92,14.69,
13.62,13.48,13.75,13.42,13.58,13.32,13.52,13.68,13.35,13.50, 13.25,13.45,13.60,13.28,13.40,13.20,13.52,13.32,13.12,13.42,
13.30,13.08,13.38,13.18,13.02,13.28,11.33,12.56,13.10,13.22, 12.95,13.15,13.02,12.90,13.20,12.98,12.85,13.08,12.95,12.78, 13.00,12.88,
13.02,12.80,12.95,12.72,12.90,13.08,12.78,12.92,12.65,12.85, 12.98,12.70,12.82,12.60,12.88,12.72,12.55,12.80,12.65,12.50,
12.72,12.58,12.45,12.68,12.52,12.75,12.40,12.60,12.48,12.70, 12.35,12.55,12.42,12.62,12.30,12.50,12.38,12.58,12.25,12.45,
12.35,12.20,12.48,12.12,12.30,12.42,12.08,12.25,12.02,12.18, 12.32,11.98,12.10,12.22,11.92,12.05,12.20,11.98,11.85,
12.12,11.90,12.20,12.02,11.72,11.90,12.15,11.85,11.40,11.78, 12.02,11.60,11.75,11.72,11.30,11.62,11.55,11.25,
13.19,12.71,13.13,13.64,12.39,12.11,12.15,12.74,13.46,13.09, 12.59,13.12,13.42,13.30,13.15,13.00,13.57,13.55,13.55, 13.05,12.95,12.85,
15.45,15.80,15.20,16.05,15.62,15.30,16.40,15.50,15.15,15.88, 15.42,16.90,14.98,15.72,15.35,15.95,15.10,15.60,16.25,15.28, 16.95,15.00,15.68,15.40,16.10,15.18,15.75,14.92,15.90,15.35, 16.92,15.12,15.58,14.85,16.30,15.25,16.00,15.05,15.52,14.80, 16.70,15.05,16.50,14.75,16.85,14.95,16.15,16.60,16.88,15.10,
15.40,15.85,15.05,16.92,15.22,15.98,14.85,15.55,16.35,15.10, 16.98,14.95,15.62,15.30,15.92,14.75,15.45,16.50,15.15,16.95, 14.90,15.58,15.28,15.85,14.70,15.40,16.90,15.05,16.20,15.20, 14.82,15.50,15.78,14.65,16.95,15.12,15.65,14.78,16.45,15.25, 16.60,16.30,16.75,16.55,16.80,14.60,14.55,14.50,14.62,14.45, 15.00,15.35,17.00,14.90,16.10,
15.20,15.55,14.75,16.92,15.05,15.80,14.60,15.30,16.40,14.90, 16.95,14.68,15.35,15.10,15.70,14.55,15.22,16.20,14.85,16.90, 14.62,15.18,14.95,15.62,14.50,15.05,16.88,14.78,15.90,14.92, 14.58,15.20,15.48,14.48,16.95,14.80,15.32,14.62,16.30,14.90, 16.65,16.45,16.70,16.80,16.60,14.35,14.30,14.40,14.25,14.28, 17.00,14.70,16.98,14.85,16.85,
14.90,15.20,14.55,16.60,14.75,15.45,14.42,14.95,15.85,14.62, 16.50,14.48,15.00,14.80,15.35,14.38,14.88,15.62,14.60,16.20, 14.45,14.82,14.70,15.25,14.32,14.78,16.35,14.55,15.48,14.65, 14.40,14.90,15.15,14.30,16.55,14.52,15.00,14.42,15.70,14.68, 16.10,16.40,16.75,15.90,16.15,14.15,14.10,14.05,14.02,14.08,
14.65,14.95,14.35,14.80,14.48,15.10,14.25,14.72,15.35,14.42, 14.98,14.30,14.75,14.55,15.60,14.20,14.62,14.85,14.38,15.05, 14.15,14.52,14.70,14.30,14.92,14.45,14.10,14.62,14.82,14.25, 14.55,14.95,14.38,14.15,15.20,14.90,15.20,15.00,15.15,14.98, 14.05,14.00,13.98,13.95,13.90,
14.40,14.68,14.15,14.55,14.28,14.82,14.02,14.48,14.65,14.20, 14.75,14.08,14.52,14.35,14.85,13.98,14.42,14.60,14.18,14.72, 13.95,14.35,14.52,14.10,14.65,14.25,13.92,14.45,14.58,14.05, 14.38,14.70,14.15,13.88,14.95,15.02,14.92,14.88,13.85,13.78,
15.60,15.35,15.85,15.50,15.20,15.75,15.42,15.95,15.55,15.28, 15.80,15.10,15.48,15.90,15.30,15.68,15.02,15.52,16.00,15.38, 15.15,15.62,14.95,15.45,15.88,15.25,15.70,15.05,15.82,15.35, 15.65,14.90,15.85,15.20,15.55,14.85,15.75,15.12,15.48,15.62, 14.95,15.40,15.70,14.82,15.28,15.58,15.02,15.50,14.78,15.80, 15.15,15.60,14.90,15.35,14.75,15.72,15.08,15.45,14.85,15.30, 15.65,14.80,15.22,15.55,14.72,15.10,15.78,14.95,15.40,14.70, 15.18,15.50,14.88,15.70,15.55,15.30,15.42,15.05,14.82,15.58,
15.30,14.95,15.70,15.15,14.82,15.55,15.05,15.85,14.90,15.40, 15.62,14.78,15.20,15.45,14.70,15.12,15.75,14.92,15.35,14.65, 15.10,15.50,14.75,15.28,14.62,15.00,15.42,14.85,15.18,14.58, 14.98,15.35,14.70,15.08,14.55,15.25,14.82,14.60,15.15,14.75, 14.95,14.60,15.22,14.80,14.50,15.05,14.68,15.12,14.55,14.88, 14.78,15.08,14.45,14.92,14.62,14.42,15.00,14.65,14.85,14.52, 14.88,14.45,14.70,15.02,14.38,14.60,14.82,14.50,14.95,14.35, 14.68,14.48,14.85,14.32,14.58,14.75,14.40,14.92,14.55,14.30,
14.75,14.45,14.90,14.58,14.40,14.80,14.50,15.00,14.62,14.42, 14.85,14.55,14.32,14.70,14.48,14.82,14.25,14.60,14.75,14.45, 14.35,14.68,14.52,14.22,14.72,14.45,14.58,14.30,14.65,14.18, 14.50,14.38,14.55,14.25,14.45,14.15,14.62,14.32,14.20,14.48, 14.10,14.40,14.28,14.05,14.35,14.18,14.02,14.30,14.12,13.98,
14.22,13.92,14.35,14.05,13.82,14.18,13.98,14.28,13.88,14.10, 13.75,14.02,13.85,14.12,13.68,13.95,13.78,14.08,13.62,13.90, 13.72,13.98,13.58,13.82,13.70,13.52,13.88,13.65,13.78,13.55, 13.68,13.45,13.80,13.58,13.40,13.70,13.52,13.35,13.62,13.48, 13.30,13.58,13.42,13.25,13.50,13.38,13.20,13.48,13.32,13.15,
13.52,13.05,13.45,13.00,13.42,12.95,13.38,12.92,13.30,12.88, 13.28,12.80,13.20,12.75,13.15,12.70,13.12,12.65,13.08,12.60, 13.02,12.55,13.00,12.52,12.95,12.48,12.90,12.42,12.85,12.38, 12.80,12.32,12.78,12.28,12.72,12.25,12.68,12.20,12.62,12.15, 12.60,12.12,12.55,12.08,12.52,12.02,12.45,12.00,12.40,11.95, 12.38,11.92,12.30,11.88,12.25,11.85,11.78,11.72,11.88,11.78
];
// green squares
const gLogP = [1.430,1.476,1.519,1.528,1.537,1.566,1.577,1.591,1.612,1.620,1.630,1.696,1.817,1.838,1.866,1.924,2.105,2.317];
const gJ = [12.29,12.18,12.20,12.15,11.93,12.18,12.05,11.93,11.81,11.55,11.66,11.40,10.87,11.10,10.69,10.38,10.11,10.36];
const gH = [11.87,11.72,11.76,11.72,11.52,11.74,11.62,11.52,11.40,11.13,11.24,10.96,10.35,10.62,10.35,9.98,9.65,10.10];
const gK = [11.74,11.60,11.62,11.58,11.38,11.60,11.48,11.38,11.26,11.01,11.10,10.82,10.26,10.49,10.22,9.86,9.54,9.90];
// panels, limits, ticks
const panels = ["J", "H", "K"];
const panelLetters = ["J", "H", "K"];
const panelSub = "0";
const limitMags = [17.1, 16.4, 15.3];
const xMajor = [0, 0.5, 1, 1.5, 2];
const xMinor = [-0.1,0,0.1,0.2,0.3,0.4,0.5,0.6,0.7,0.8,0.9,1,1.1,1.2,1.3,1.4,1.5,1.6,1.7,1.8,1.9,2,2.1,2.2,2.3,2.4];
const yMajor = [10, 12, 14, 16, 18];
const yMinor = [8.5,9,9.5,10,10.5,11,11.5,12,12.5,13,13.5,14,14.5,15,15.5,16,16.5,17,17.5,18,18.5];
const xLabel = "log(P)";

// ---- tables built from the arrays ----
const n = Math.min(logP.length, J0.length, H0.length, K0.length);
if (new Set([logP.length, J0.length, H0.length, K0.length]).size > 1) console.warn("length mismatch", logP.length, J0.length, H0.length, K0.length);
const mags = {J: J0, H: H0, K: K0};
const stars = [];
for (const panel of panels) for (let i = 0; i < n; i++) stars.push({panel, p: logP[i], m: mags[panel][i]});
const gm = {J: gJ, H: gH, K: gK};
const greens = [];
for (const panel of panels) gLogP.forEach((p, i) => greens.push({panel, p, m: gm[panel][i]}));
const limits = panels.map((panel, i) => ({panel, m: limitMags[i]}));
const labels = panels.map((panel, i) => ({panel, text: panelLetters[i] + panelSub}));

function yTicks(ticks, len) {
  return [
    Plot.axisY(ticks, {anchor: "left", tickSize: len, dx: len, fill: "none", label: null}),
    Plot.axisY(ticks, {anchor: "right", tickSize: len, dx: -len, fill: "none", label: null})
  ];
}
function xTicks(ticks, len) {
  return [
    Plot.axisX(ticks, {anchor: "bottom", tickSize: len, dy: -len, fill: "none", label: null, facetAnchor: null}),
    Plot.axisX(ticks, {anchor: "top", tickSize: len, dy: len, fill: "none", label: null, facetAnchor: null})
  ];
}

const chart = Plot.plot({
  width: 830,
  height: 830,
  marginLeft: 90,
  marginRight: 43,
  marginTop: 45,
  marginBottom: 89,
  style: {fontFamily: "'DejaVu Serif', serif", fontSize: "16px", background: "white", color: "black"},
  x: {domain: [-0.177, 2.475]},
  y: {domain: [8.25, 18.75], reverse: true},
  fy: {domain: panels, padding: 0, axis: null},
  marks: [
    Plot.ruleY(limits, {y: "m", fy: "panel", stroke: "#222", strokeWidth: 1.1, strokeDasharray: "11,8"}),
    Plot.dot(stars, {x: "p", y: "m", fy: "panel", symbol: "times", r: 3, stroke: "black", strokeWidth: 1.3}),
    Plot.dot(greens, {x: "p", y: "m", fy: "panel", symbol: "square", r: 3.4, fill: "#00ff00", stroke: "none"}),
    ...yTicks(yMinor, 7),
    ...yTicks(yMajor, 13),
    ...xTicks(xMinor, 6),
    ...xTicks(xMajor, 12),
    Plot.axisY(yMajor, {anchor: "left", tickSize: 0, tickPadding: 13, label: null, tickFormat: d => String(d)}),
    Plot.axisX(xMajor, {anchor: "bottom", tickSize: 0, tickPadding: 10, label: null, tickFormat: d => String(d)}),
    Plot.text(labels, {fy: "panel", text: "text", frameAnchor: "left", dx: -52, rotate: -90, fontSize: 17, className: "panel-label"}),
    Plot.text([{panel: "K", text: xLabel}], {fy: "panel", text: "text", frameAnchor: "bottom", dy: 46, fontSize: 17}),
    Plot.frame({stroke: "black", strokeWidth: 1})
  ]
});
// render the trailing "0" of the panel labels as a subscript
d3.select(chart).selectAll(".panel-label text").each(function () {
  const t = this.textContent;
  const el = d3.select(this);
  el.text(null);
  el.append("tspan").text(t.slice(0, -1));
  el.append("tspan").attr("font-size", 12).attr("dy", "0.35em").text(t.slice(-1));
});
document.getElementById("chart").append(chart);
</script></body></html>
